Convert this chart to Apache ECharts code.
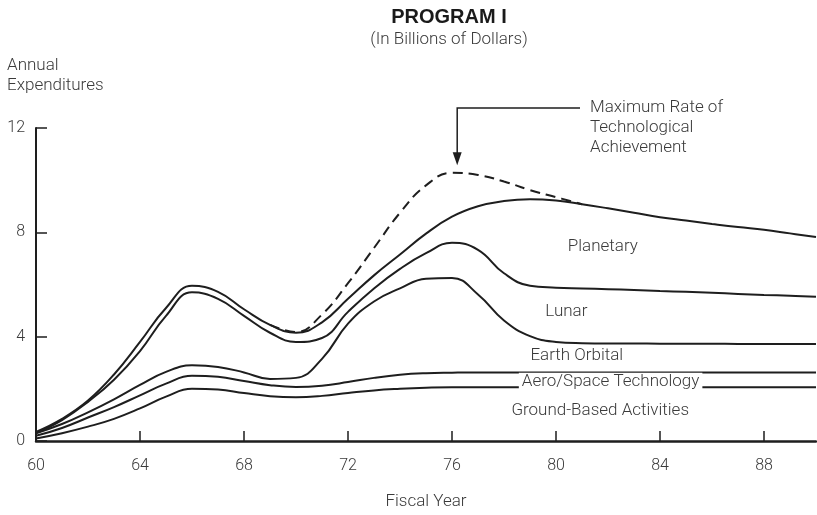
<!DOCTYPE html>
<html>
<head>
<meta charset="utf-8">
<script src="https://cdn.jsdelivr.net/npm/echarts@6/dist/echarts.min.js"></script>
<style>
  html, body { margin: 0; padding: 0; background: #fff; }
  #main { width: 817px; height: 515px; }
</style>
</head>
<body>
<div id="main"></div>
<script>
// fiscal years (x axis)
var years = [60, 61, 62, 63, 64, 65, 66, 67, 68, 69, 70, 71, 72, 73, 74, 75,
  76, 77, 78, 79, 80, 81, 82, 83, 84, 85, 86, 87, 88, 89, 90]

// cumulative expenditures, billions of dollars (each curve is the top of a band)
var groundBased = [0.1, 0.3, 0.55, 0.85, 1.25, 1.7, 2.0, 1.97, 1.84, 1.72, 1.68, 1.73, 1.84, 1.94, 2.0, 2.04,
  2.06, 2.06, 2.06, 2.06, 2.06, 2.06, 2.06, 2.06, 2.06, 2.06, 2.06, 2.06, 2.06, 2.06, 2.06]
var aeroSpace = [0.2, 0.5, 0.9, 1.3, 1.75, 2.2, 2.5, 2.46, 2.3, 2.14, 2.07, 2.12, 2.26, 2.42, 2.54, 2.6,
  2.62, 2.63, 2.63, 2.63, 2.63, 2.63, 2.63, 2.63, 2.63, 2.63, 2.63, 2.63, 2.63, 2.63, 2.63]
var earthOrbital = [0.3, 0.65, 1.1, 1.6, 2.15, 2.65, 2.9, 2.84, 2.63, 2.38, 2.42, 3.15, 4.5, 5.35, 5.85, 6.22,
  6.25, 5.62, 4.62, 4.02, 3.8, 3.75, 3.74, 3.74, 3.73, 3.73, 3.73, 3.72, 3.72, 3.72, 3.72]
var lunar = [0.3, 0.8, 1.5, 2.35, 3.45, 4.8, 5.7, 5.45, 4.8, 4.15, 3.8, 3.95, 4.95, 5.85, 6.6, 7.2,
  7.6, 7.33, 6.43, 5.95, 5.88, 5.85, 5.82, 5.79, 5.75, 5.72, 5.68, 5.64, 5.6, 5.57, 5.53]
var planetary = [0.35, 0.85, 1.55, 2.55, 3.8, 5.1, 5.95, 5.72, 5.05, 4.45, 4.15, 4.55, 5.45, 6.35, 7.15, 7.95,
  8.6, 9.0, 9.2, 9.27, 9.22, 9.08, 8.92, 8.75, 8.58, 8.45, 8.32, 8.2, 8.1, 7.96, 7.82]
var maxRate = [null, null, null, null, null, null, null, null, null, 4.45, 4.18, 4.85, 6.05, 7.4, 8.75, 9.8,
  10.28, 10.2, 9.95, 9.62, 9.35, 9.08, null, null, null, null, null, null, null, null, null]

// axis ticks
var xTicks = [60, 64, 68, 72, 76, 80, 84, 88]

// band labels and where they sit (data coords)
var bandNames = ['Planetary', 'Lunar', 'Earth Orbital', 'Aero/Space Technology', 'Ground-Based Activities']
var bandSpots = [[81.8, 7.45], [80.4, 4.97], [80.8, 3.25], [82.1, 2.29], [81.7, 1.15]]
var peak = [76.2, 10.3]

var FONT = 'Roboto'
var TXT = '#3a3a3a'
var LINE = '#1e1e1e'

function pairs(vals) {
  return years.map(function (y, i) { return [y, vals[i]] })
}

function curve(name, vals, dashed) {
  return {
    name: name,
    type: 'line',
    data: pairs(vals),
    symbol: 'none',
    smooth: 0.45,
    smoothConstraint: false,
    connectNulls: false,
    z: dashed ? 3 : 2,
    lineStyle: { color: LINE, width: 2, type: dashed ? [10, 6] : 'solid' }
  }
}

var myChart = echarts.init(document.getElementById('main'))

var option = {
  animation: false,
  backgroundColor: '#fff',
  grid: { left: 36, right: 1, top: 128, bottom: 73 },
  xAxis: {
    type: 'value',
    min: 60,
    max: 90,
    interval: 4,
    name: 'Fiscal Year',
    nameLocation: 'middle',
    nameGap: 52,
    nameTextStyle: { fontFamily: FONT, fontWeight: 300, fontSize: 17, color: TXT },
    splitLine: { show: false },
    axisLine: { lineStyle: { color: LINE, width: 2.5 } },
    axisTick: { inside: true, length: 10, lineStyle: { color: LINE, width: 1.5 }, customValues: xTicks },
    axisLabel: { margin: 17, fontFamily: FONT, fontWeight: 300, fontSize: 16, color: TXT, customValues: xTicks }
  },
  yAxis: {
    type: 'value',
    min: 0,
    max: 12,
    interval: 4,
    splitLine: { show: false },
    axisLine: { show: true, lineStyle: { color: LINE, width: 2 } },
    axisTick: { show: true, inside: true, length: 11, lineStyle: { color: LINE, width: 1.5 } },
    axisLabel: { margin: 11, fontFamily: FONT, fontWeight: 300, fontSize: 16, color: TXT }
  },
  series: [
    curve('Ground-Based Activities', groundBased),
    curve('Aero/Space Technology', aeroSpace),
    curve('Earth Orbital', earthOrbital),
    curve('Lunar', lunar),
    curve('Planetary', planetary),
    curve('Maximum Rate of Technological Achievement', maxRate, true)
  ]
}

myChart.setOption(option)

// annotations placed from data coordinates
var txt = { fontFamily: FONT, fontWeight: 300, fontSize: 17, fill: TXT }
var graphics = [
  { type: 'text', x: 449, y: 17, style: { text: 'PROGRAM I', fontFamily: 'Liberation Sans', fontWeight: 'bold', fontSize: 20, fill: '#1a1a1a', textAlign: 'center', textVerticalAlign: 'middle' } },
  { type: 'text', x: 449, y: 40, style: Object.assign({ text: '(In Billions of Dollars)', textAlign: 'center', textVerticalAlign: 'middle' }, txt) },
  { type: 'text', x: 7, y: 66, style: Object.assign({ text: 'Annual', textVerticalAlign: 'middle' }, txt) },
  { type: 'text', x: 7, y: 86, style: Object.assign({ text: 'Expenditures', textVerticalAlign: 'middle' }, txt) }
]

bandNames.forEach(function (n, i) {
  var p = myChart.convertToPixel('grid', bandSpots[i])
  graphics.push({
    type: 'text', x: p[0], y: p[1], z: 10,
    style: Object.assign({
      text: n, textAlign: 'center', textVerticalAlign: 'middle',
      backgroundColor: i === 3 ? '#fff' : null, padding: i === 3 ? [0, 3] : 0
    }, txt)
  })
})

var pk = myChart.convertToPixel('grid', peak)
var tipY = pk[1] - 7
var topY = 108
var endX = 580
graphics.push({
  type: 'polyline', z: 10,
  shape: { points: [[endX, topY], [pk[0], topY], [pk[0], tipY - 10]] },
  style: { stroke: LINE, lineWidth: 1.5, fill: null }
})
graphics.push({
  type: 'polygon', z: 10,
  shape: { points: [[pk[0] - 4.5, tipY - 13], [pk[0] + 4.5, tipY - 13], [pk[0], tipY]] },
  style: { fill: LINE }
})
graphics.push({
  type: 'text', x: endX + 10, y: topY - 10, z: 10,
  style: Object.assign({
    text: 'Maximum Rate of\nTechnological\nAchievement', lineHeight: 20, textVerticalAlign: 'top'
  }, txt)
})

myChart.setOption({ graphic: graphics })
</script>
</body>
</html>
